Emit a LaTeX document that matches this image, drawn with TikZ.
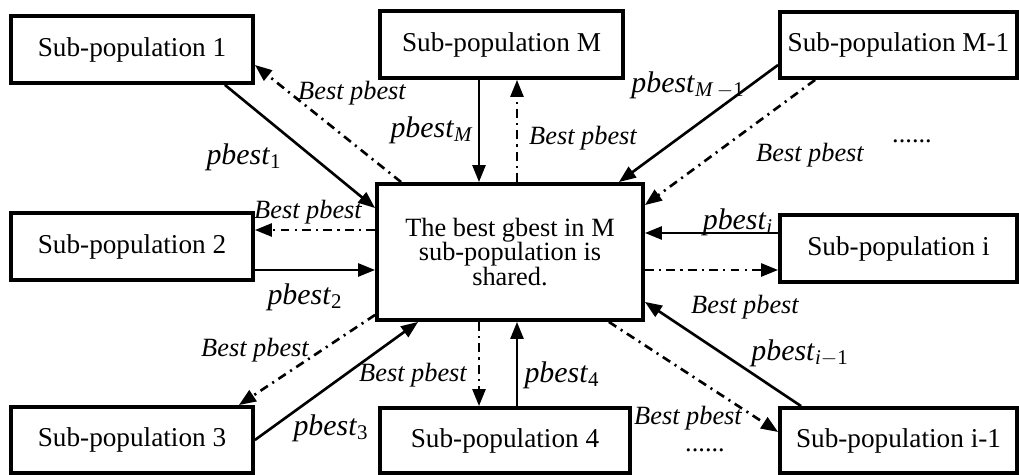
\documentclass[tikz,border=0pt]{standalone}
\usepackage{fontspec}
\setmainfont{Liberation Serif}
\usepackage{tikz}
\usetikzlibrary{arrows.meta,calc}
\newcommand{\pb}[1]{\textit{pbest}\textsubscript{#1}}
\tikzset{
  >={Triangle[length=3.4mm,width=2.6mm]},
  % rutor
  sub/.style={draw,line width=2.2pt,minimum width=4.84cm,minimum height=1.34cm,
              inner sep=0pt,font=\fontsize{15.5}{17}\selectfont},
  mid/.style={draw,line width=2.2pt,minimum width=5.32cm,minimum height=2.72cm,
              inner sep=0pt,align=center,font=\fontsize{15}{14}\selectfont},
  % pilar
  up/.style={->,line width=1.5pt},
  down/.style={->,line width=1.5pt,dash pattern=on 5pt off 3pt on 1.2pt off 3pt},
  lb/.style={inner sep=0pt,font=\fontsize{15}{17}\selectfont\itshape},
  lp/.style={inner sep=0pt,font=\fontsize{17}{19}\selectfont},
  dots/.style={inner sep=0pt,font=\fontsize{15}{17}\selectfont},
}
\begin{document}
\begin{tikzpicture}[x=0.02cm,y=-0.02cm]
\useasboundingbox (0,0) rectangle (1019,475);
  \node[mid] (share) at (510,252) {The best gbest in M\\sub-population is\\shared.};
  \node[sub] (sp1) at (132,49.5) {Sub-population 1};
  \node[sub,minimum width=4.86cm] (spM) at (501.5,44.5) {Sub-population M};
  \node[sub,minimum width=4.74cm,minimum height=1.32cm] (spM1) at (898.5,45) {Sub-population M-1};
  \node[sub] (sp2) at (132,246.5) {Sub-population 2};
  \node[sub,minimum width=4.74cm] (spi) at (898.5,248.5) {Sub-population i};
  \node[sub,minimum height=1.32cm] (sp3) at (132,440) {Sub-population 3};
  \node[sub,minimum width=5cm,minimum height=1.3cm] (sp4) at (505,440.5) {Sub-population 4};
  \node[sub,minimum width=4.74cm,minimum height=1.3cm] (spi1) at (898.5,440.5) {Sub-population i-1};
  % 1
  \draw[up] ([xshift=-0.6cm]sp1.south east) -- ([yshift=-0.52cm]share.north west);
  \draw[down] ([xshift=0.52cm]share.north west) -- ([yshift=-0.31cm]sp1.east);
  \node[lb] (b1) at (352,93) {Best pbest};
  \node[lp] (p1) at (244,157) {\pb{1}};
  % M
  \draw[up] ([xshift=-0.62cm]share.north |- spM.south) -- ([xshift=-0.62cm]share.north);
  \draw[down] ([xshift=0.14cm]share.north) -- ([xshift=0.14cm]share.north |- spM.south);
  \node[lp] (pM) at (432,130) {\pb{\textit{M}}};
  \node[lb] (bM) at (583,138) {Best pbest};
  % M-1
  \draw[up] ([yshift=-0.4cm]spM1.west) -- ([xshift=-0.52cm]share.north east);
  \draw[down] ([xshift=0.74cm]spM1.south west) -- ([yshift=-0.46cm]share.north east);
  \node[lp] (pM1) at (688,85) {\pb{\textit{M}\,$-$1}};
  \node[lb] (bM1) at (810,155) {Best pbest};
  \node[dots] (d1) at (912,141) {......};
  % i
  \draw[up] ([yshift=0.31cm]spi.west) -- ([yshift=0.31cm]spi.west -| share.east);
  \draw[down] ([yshift=-0.43cm]spi.west -| share.east) -- ([yshift=-0.43cm]spi.west);
  \node[lp] (pi) at (738,222) {\pb{\textit{i}}};
  % 2
  \draw[down] ([yshift=0.33cm]sp2.east -| share.west) -- ([yshift=0.33cm]sp2.east);
  \draw[up] ([yshift=-0.47cm]sp2.east) -- ([yshift=-0.47cm]sp2.east -| share.west);
  \node[lb] (b2) at (308,212) {Best pbest};
  \node[lp] (p2) at (305,297) {\pb{2}};
  % 3
  \draw[down] ([yshift=0.14cm]share.south west) -- ([xshift=-0.32cm]sp3.north east);
  \draw[up] (sp3.east) -- ([xshift=0.86cm]share.south west);
  \node[lb] (b3) at (255,350) {Best pbest};
  \node[lp] (p3) at (331,428) {\pb{3}};
  % 4
  \draw[down] ([xshift=-0.62cm]share.south) -- ([xshift=-0.62cm]share.south |- sp4.north);
  \draw[up] ([xshift=0.14cm]share.south |- sp4.north) -- ([xshift=0.14cm]share.south);
  \node[lb] (b4) at (413,375) {Best pbest};
  \node[lp] (p4) at (562,375) {\pb{4}};
  % i-1
  \draw[up] ([xshift=0.46cm]spi1.north west) -- ([yshift=0.4cm]share.south east);
  \draw[down] ([xshift=-0.72cm]share.south east) -- ([yshift=0.17cm]spi1.west);
  \node[lb] (bi) at (745,307) {Best pbest};
  \node[lp] (pi1) at (800,353) {\pb{\textit{i}$-$1}};
  \node[lb] (bi1) at (688,418) {Best pbest};
  \node[dots] (d2) at (705,450) {......};
\end{tikzpicture}
\end{document}
